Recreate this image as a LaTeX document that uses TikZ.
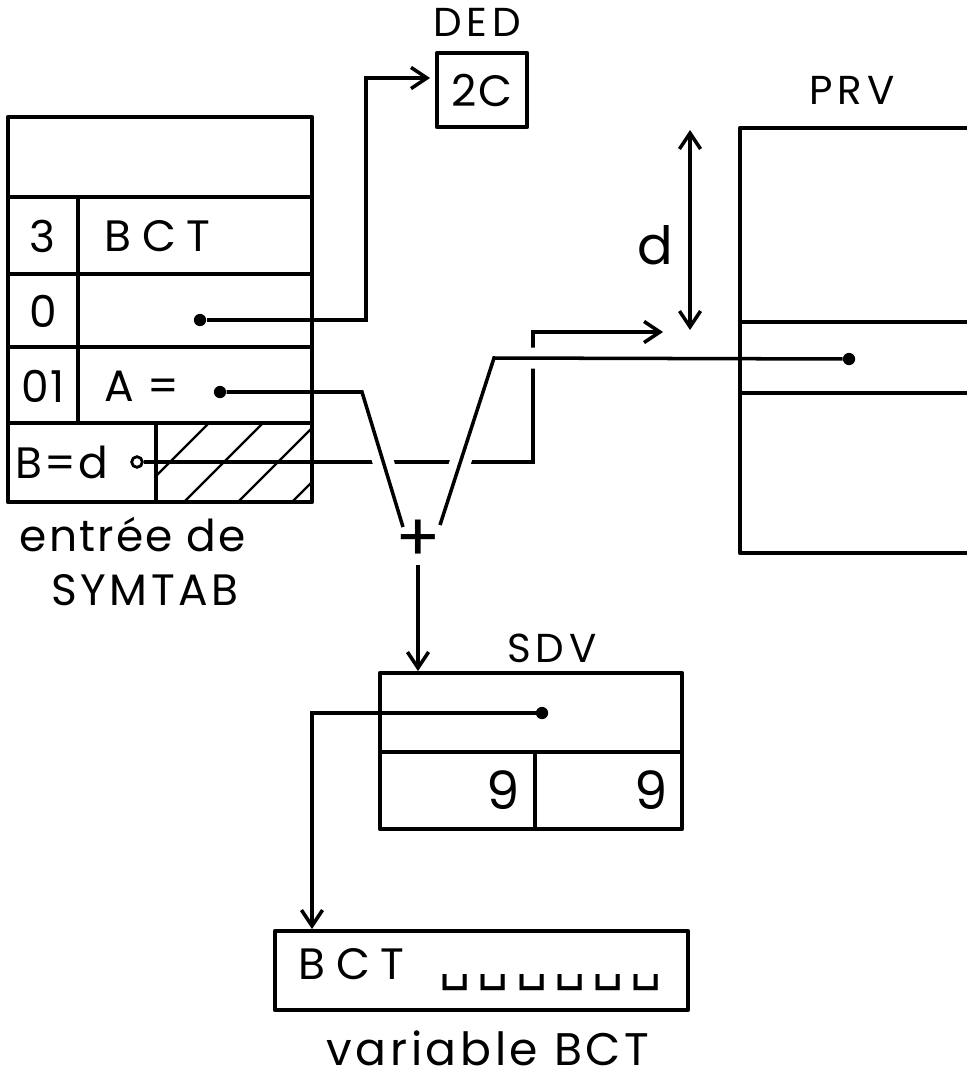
\documentclass[tikz,border=0pt]{standalone}
\usepackage{fontspec}
\setmainfont{Poppins}
\newfontfamily\blankfont{DejaVu Sans}
\usetikzlibrary{arrows.meta,positioning,calc}

\begin{document}
\begin{tikzpicture}[
    x=0.02cm, y=-0.02cm,
    box/.style={draw, line width=2.5pt, line join=round},
    lnk/.style={line width=2pt},
    arr/.style={lnk, -{Straight Barb[length=9pt, width=12pt, line width=2pt]}},
    dbl/.style={lnk, {Straight Barb[length=9pt, width=12pt, line width=2pt]}-{Straight Barb[length=9pt, width=12pt, line width=2pt]}},
    hop/.style={preaction={draw=white, line width=12pt}},
    dot/.style={circle, fill, inner sep=0pt, minimum size=7pt},
    odot/.style={circle, draw, fill=white, line width=1.5pt, inner sep=0pt, minimum size=6pt},
    txt/.style={font=\fontsize{25}{30}\selectfont\addfontfeature{LetterSpace=5}, inner sep=1pt},
    lbl/.style={font=\fontsize{23}{26}\selectfont\addfontfeature{LetterSpace=12}, inner sep=1pt}
]
\useasboundingbox (0,0) rectangle (967,1085);

% ends of the links
\node[dot] (p0) at (200,320) {};
\node[dot] (pa) at (220,392) {};
\node[odot] (pb) at (137,462) {};
\node[dot] (pr) at (849,359) {};
\node[dot] (ps) at (542,713) {};
\coordinate (dedin) at (430,78);
\coordinate (bend) at (663,332);
\coordinate (vl) at (403,527);
\coordinate (vr) at (440,525);
\coordinate (sumout) at (418,565);
\coordinate (sdvin) at (418,671);
\coordinate (varin) at (312,929);
\coordinate (dtop) at (690,130);
\coordinate (dbot) at (690,330);

% B = d, then the crossing link A =
\draw[arr] (pb) -| (533,332) -- (bend);
\draw[lnk, hop] (pa) -- (362,392) -- (vl);
\draw[lnk, hop] (vr) -- (494,358) -- (pr);
\node[font=\fontsize{38}{38}\selectfont, inner sep=0pt] (sum) at (418,541) {+};
\draw[arr] (sumout) -- (sdvin);

% SYMTAB entry
\draw[box] (8,117) rectangle (312,502);
\foreach \y in {197,274,347,423}
    \draw[box] (8,\y) -- (312,\y);
\draw[box] (78,197) -- (78,423);
\draw[box] (156,423) -- (156,502);
\begin{scope}
\clip (156,423) rectangle (312,502);
\foreach \x in {130,184,238,292}
    \draw[line width=1.4pt] (\x,502) -- ++(90,-90);
\end{scope}
\draw[lnk] (pb) -- (312,462);
\node[odot] at (pb) {};
\node[txt] (n3) at (42,236) {3};
\node[txt, anchor=west] (bct) at (102,236) {\addfontfeature{LetterSpace=25}BCT};
\node[txt] (n0) at (43,311) {0};
\node[txt] (n01) at (43,386) {01};
\node[txt] (aeq) at (142,386) {A =};
\node[txt] (bd) at (62,462) {B=d};
\node[txt] (entree) at (133,535) {entrée de};
\node[txt] (symtab) at (145,590) {\addfontfeature{LetterSpace=8}SYMTAB};

% DED
\node[lbl] (dedlbl) at (477,22) {DED};
\draw[box] (437,53) rectangle (527,127);
\node[txt] (ded) at (482,90) {2C};
\draw[arr] (p0) -| (366,78) -- (dedin);

% PRV
\node[lbl] (prvlbl) at (852,90) {PRV};
\draw[box] (967,128) -- (740,128) -- (740,553) -- (967,553);
\draw[box] (740,322) -- (967,322);
\draw[box] (740,393) -- (967,393);
\draw[dbl] (dtop) -- (dbot);
\node[txt, font=\fontsize{30}{34}\selectfont] (dlbl) at (655,245) {d};

% SDV
\node[lbl] (sdvlbl) at (552,648) {SDV};
\draw[box] (380,673) rectangle (682,829);
\draw[box] (380,752) -- (682,752);
\draw[box] (535,752) -- (535,829);
\node[txt, font=\fontsize{30}{34}\selectfont, anchor=east] (n9a) at (522,790) {9};
\node[txt, font=\fontsize{30}{34}\selectfont, anchor=east] (n9b) at (670,790) {9};
\draw[arr] (ps) -| (varin);

% variable BCT
\draw[box] (275,931) rectangle (688,1010);
\node[txt, anchor=west] (val) at (296,970) {\addfontfeature{LetterSpace=25}BCT\hspace{20pt}{\blankfont\fontsize{28}{28}\selectfont\addfontfeature{LetterSpace=14}␣␣␣␣␣␣}};
\node[txt, font=\fontsize{26}{30}\selectfont\addfontfeature{LetterSpace=8}] (varlbl) at (488,1048) {variable BCT};
\end{tikzpicture}
\end{document}
